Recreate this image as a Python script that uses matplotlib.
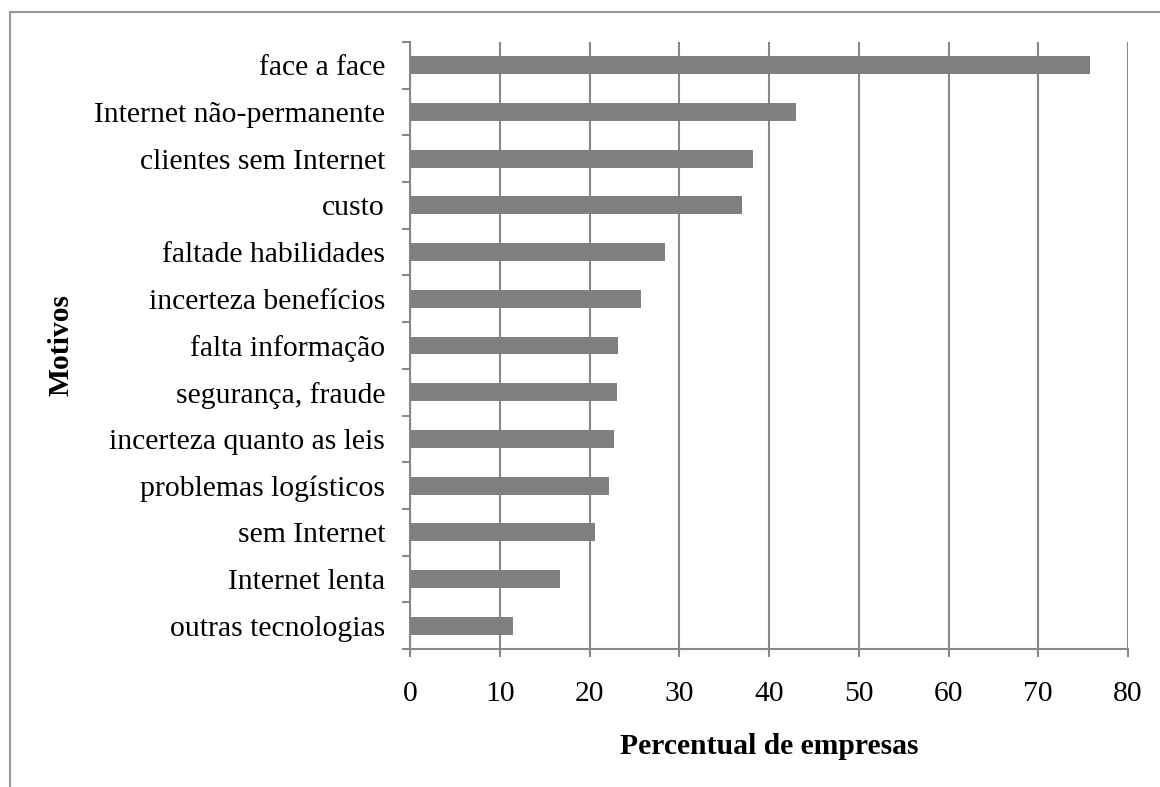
import numpy as np
import matplotlib
matplotlib.use("Agg")
import matplotlib.pyplot as plt
from matplotlib.lines import Line2D

categories = ["face a face", "Internet não-permanente", "clientes sem Internet",
              "custo", "faltade habilidades", "incerteza benefícios",
              "falta informação", "segurança, fraude", "incerteza quanto as leis",
              "problemas logísticos", "sem Internet", "Internet lenta",
              "outras tecnologias"]
values = [75.8, 43.0, 38.2, 37.0, 28.4, 25.7, 23.2, 23.1, 22.7, 22.2, 20.6, 16.7, 11.5]
xticks = [0, 10, 20, 30, 40, 50, 60, 70, 80]

plt.rcParams['font.family'] = ['Liberation Serif', 'DejaVu Serif']

W, H = 1160, 787
fig = plt.figure(figsize=(W / 100, H / 100), dpi=100)
fig.patch.set_facecolor('white')

left, right, top, bottom = 410, 1128, 42, 649
ax = fig.add_axes([left / W, 1 - bottom / H, (right - left) / W, (bottom - top) / H])

grid_c = '#888888'
fs = 21.3
pos = np.arange(len(categories))
ax.barh(pos, values, height=0.385, color='#808080', zorder=3)

ax.set_xlim(xticks[0], xticks[-1])
ax.set_ylim(len(categories) - 0.5, -0.5)
ax.set_xticks(xticks)
ax.set_xticklabels([str(t) for t in xticks])
ax.set_yticks(pos)
ax.set_yticklabels(categories)
ax.set_yticks(np.arange(-0.5, len(categories), 1), minor=True)

ax.grid(axis='x', color=grid_c, linewidth=1.5, zorder=0)
ax.set_axisbelow(True)

for s in ['top', 'right']:
    ax.spines[s].set_visible(False)
for s in ['left', 'bottom']:
    ax.spines[s].set_color(grid_c)
    ax.spines[s].set_linewidth(1.5)

ax.tick_params(axis='y', which='major', length=0, pad=18, labelsize=fs)
ax.tick_params(axis='y', which='minor', length=6, width=1.5, color=grid_c)
ax.tick_params(axis='x', which='major', length=6, width=1.5, color=grid_c,
               pad=17, labelsize=fs)

ax.set_xlabel('Percentual de empresas', fontsize=fs, fontweight='bold')
ax.set_ylabel('Motivos', fontsize=fs, fontweight='bold')
ax.xaxis.set_label_coords(0.5, (bottom - 746) / (bottom - top))
ax.xaxis.label.set_va('center')
ax.yaxis.set_label_coords((61 - left) / (right - left), 0.5)
ax.yaxis.label.set_va('center')

border_c = '#999999'
bx = 10 / W
by = 1 - 12 / H
fig.add_artist(Line2D([bx, 1], [by, by], transform=fig.transFigure, color=border_c, lw=1.5))
fig.add_artist(Line2D([bx, bx], [0, by], transform=fig.transFigure, color=border_c, lw=1.5))

fig.savefig('out.png', dpi=100, facecolor='white')
